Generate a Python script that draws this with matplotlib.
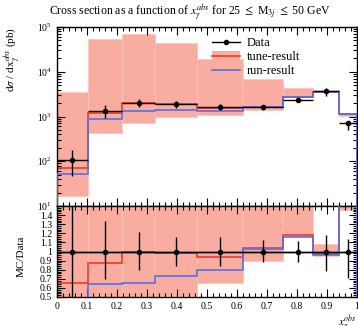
import numpy as np
import matplotlib
matplotlib.use("Agg")
import matplotlib.pyplot as plt
from matplotlib.ticker import MultipleLocator, LogLocator, NullFormatter, FixedLocator
from matplotlib.lines import Line2D
from matplotlib.patches import Patch

plt.rcParams['font.family'] = ['Liberation Serif', 'DejaVu Serif']
plt.rcParams['mathtext.fontset'] = 'stix'

# x_gamma^obs binning
edges = np.array([0.0, 0.103, 0.217, 0.327, 0.467, 0.62, 0.753, 0.853, 0.94, 1.0])
centers = 0.5 * (edges[:-1] + edges[1:])
halfw = 0.5 * np.diff(edges)

# measured cross section (pb) and relative uncertainty bounds
data = np.array([107, 1350, 2040, 1890, 1650, 1590, 2350, 3650, 710])
data_rel_up = np.array([1.66, 1.33, 1.21, 1.16, 1.16, 1.125, 1.12, 1.18, 1.14])
data_rel_dn = np.array([0.44, 0.70, 0.80, 0.84, 0.84, 0.88, 0.88, 0.79, 0.71])

# MC predictions (pb)
tune = np.array([70, 1175, 2040, 1860, 1550, 1650, 2770, 3540, 1150])
run = np.array([52, 865, 1330, 1380, 1320, 1640, 2720, 3500, 1140])

# tune envelope (pb)
band_lo = np.array([17, 430, 720, 960, 1070, 1430, 2750, 3470, 1030])
band_hi = np.array([3500, 54000, 69000, 45000, 19000, 6800, 4400, 3940, 1210])

RED = '#ee3b22'
BLUE = '#5a6ee8'
BAND = '#f9ada0'

W, H = 358, 326
fig = plt.figure(figsize=(W / 100, H / 100), dpi=100)
L, R = 57 / W, 357 / W
ax = fig.add_axes([L, 1 - 206 / H, R - L, (206 - 27) / H])
axr = fig.add_axes([L, 1 - 297 / H, R - L, (297 - 206) / H], sharex=ax)

# top panel
ax.bar(edges[:-1], band_hi - band_lo, width=np.diff(edges), bottom=band_lo,
       align='edge', color=BAND, edgecolor='#fbc4b8', linewidth=0.5, zorder=1)
ax.stairs(tune, edges, color=RED, linewidth=1.2, zorder=2)
ax.stairs(run, edges, color=BLUE, linewidth=1.2, zorder=3)
ax.errorbar(centers, data, xerr=halfw,
            yerr=[data - data * data_rel_dn, data * data_rel_up - data],
            fmt='o', color='black', markersize=3, elinewidth=1, capsize=0, zorder=4)
ax.set_yscale('log')
ax.set_ylim(10, 1e5)
ax.set_xlim(0, 1)
ax.yaxis.set_major_locator(LogLocator(base=10, numticks=10))
ax.yaxis.set_minor_locator(LogLocator(base=10, subs=np.arange(2, 10), numticks=10))
ax.yaxis.set_minor_formatter(NullFormatter())
ax.tick_params(labelbottom=False)
ax.set_ylabel(r'd$\sigma$ / dx$_{\gamma}^{obs}$ (pb)', loc='top', fontsize=8)
ax.yaxis.set_label_coords(-0.112, 1.0)

# legend
h_data = Line2D([], [], color='black', marker='o', markersize=3, linewidth=1)
h_tune = (Patch(facecolor=BAND, edgecolor='none'), Line2D([], [], color=RED, linewidth=1.2))
h_run = Line2D([], [], color=BLUE, linewidth=1.2)
ax.legend([h_data, h_tune, h_run], ['Data', 'tune-result', 'run-result'],
          loc='upper left', bbox_to_anchor=(0.5, 0.97), frameon=False,
          fontsize=9, handlelength=2.2, handletextpad=0.6, labelspacing=0.15,
          borderaxespad=0)

# ratio panel
axr.bar(edges[:-1], (band_hi - band_lo) / data, width=np.diff(edges),
        bottom=band_lo / data, align='edge', color=BAND, edgecolor='#fbc4b8',
        linewidth=0.5, zorder=1)
axr.stairs(tune / data, edges, color=RED, linewidth=1.2, zorder=2)
axr.stairs(run / data, edges, color=BLUE, linewidth=1.2, zorder=3)
axr.axhline(1.0, color='black', linewidth=1, zorder=4)
axr.errorbar(centers, np.ones_like(centers), xerr=halfw,
             yerr=[1 - data_rel_dn, data_rel_up - 1],
             fmt='o', color='black', markersize=3, elinewidth=1, capsize=0, zorder=5)
axr.set_ylim(0.5, 1.5)
axr.yaxis.set_major_locator(FixedLocator([0.5, 0.6, 0.7, 0.8, 0.9, 1.0, 1.1, 1.2, 1.3, 1.4]))
axr.yaxis.set_minor_locator(MultipleLocator(0.02))
axr.set_yticklabels(['0.5', '0.6', '0.7', '0.8', '0.9', '1', '1.1', '1.2', '1.3', '1.4'])
axr.xaxis.set_minor_locator(MultipleLocator(0.02))
axr.set_xticks(np.arange(0, 1.01, 0.1))
axr.set_xticklabels(['0', '0.1', '0.2', '0.3', '0.4', '0.5', '0.6', '0.7', '0.8', '0.9', '1'])
axr.set_ylabel('MC/Data', fontsize=8)
axr.yaxis.set_label_coords(-0.105, 0.45)
axr.set_xlabel(r'$x_{\gamma}^{obs}$', loc='right', fontsize=8, labelpad=2)

for a in (ax, axr):
    a.tick_params(which='both', direction='in', top=True, right=True, labelsize=7, width=0.8)
    a.tick_params(which='major', length=6)
    a.tick_params(which='minor', length=3)
    for s in a.spines.values():
        s.set_linewidth(1.0)

fig.text(190 / W, 1 - 13 / H,
         r'Cross section as a function of $x_{\gamma}^{abs}$ for 25 $\leq$ M$_{3j}$ $\leq$ 50 GeV',
         ha='center', va='center', fontsize=8.5)

fig.savefig('out.png', dpi=100)
